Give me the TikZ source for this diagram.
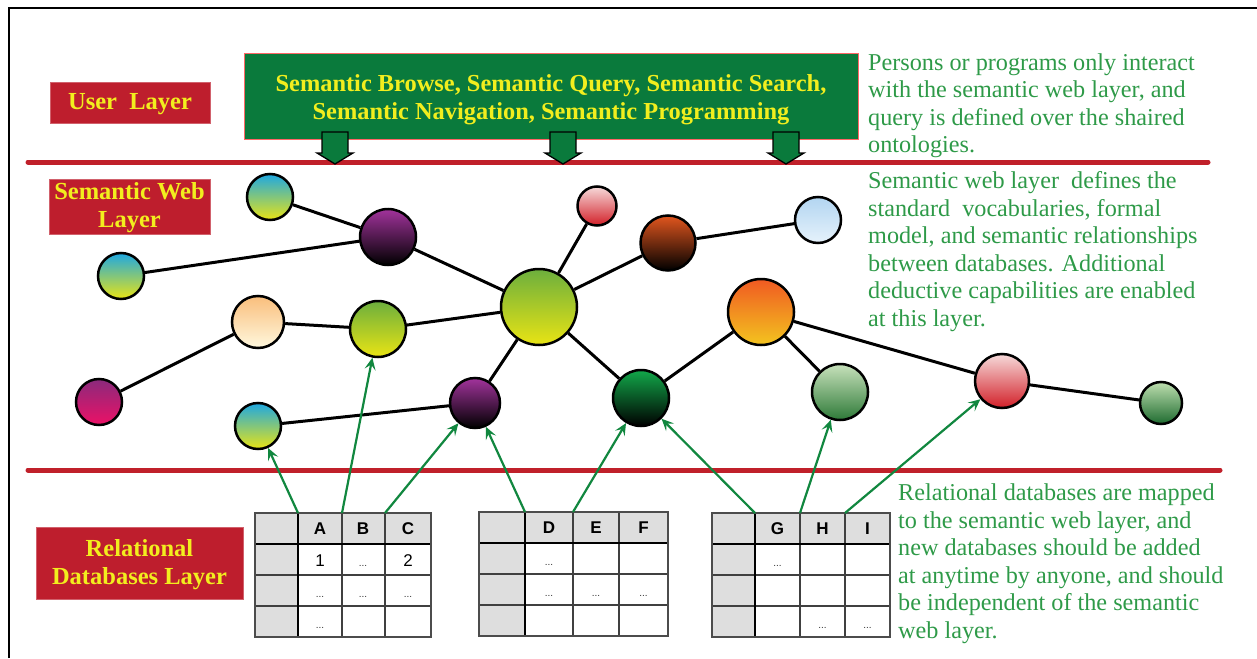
\documentclass[tikz,border=0pt]{standalone}
\usepackage{fontspec}
\setmainfont{Liberation Serif}
\newfontfamily\arialf{Liberation Sans}
\usetikzlibrary{arrows.meta}
\definecolor{sepred}{HTML}{C0202A}
\definecolor{boxred}{HTML}{BE1E2D}
\definecolor{boxyellow}{HTML}{F2EE1E}
\definecolor{boxgreen}{HTML}{0A7A3C}
\definecolor{txtgreen}{HTML}{2E9A48}
\definecolor{arrgreen}{HTML}{11873F}
\definecolor{cellgray}{HTML}{DEDEDE}
\definecolor{cyanT}{HTML}{1EA8E2}
\definecolor{yelB}{HTML}{E9E414}
\definecolor{purT}{HTML}{A2339C}
\definecolor{pinkT}{HTML}{F6DADA}
\definecolor{redB}{HTML}{D21F28}
\definecolor{rustT}{HTML}{E2561E}
\definecolor{skyT}{HTML}{B2D5F1}
\definecolor{skyB}{HTML}{E6F2FB}
\definecolor{limeT}{HTML}{6CAF3D}
\definecolor{peachT}{HTML}{F9BE7C}
\definecolor{creamB}{HTML}{FFF8DE}
\definecolor{plumT}{HTML}{8A2A7C}
\definecolor{rosB}{HTML}{EC1166}
\definecolor{grnT}{HTML}{12A84A}
\definecolor{orT}{HTML}{F05A22}
\definecolor{orB}{HTML}{F3C41F}
\definecolor{sageT}{HTML}{C8E2BC}
\definecolor{sageB}{HTML}{2E7A38}
\definecolor{leafT}{HTML}{BEDFAF}
\definecolor{leafB}{HTML}{1E6B30}
\newcommand\dbgrid[6]{%
  \fill[cellgray] (#1,#6) rectangle (#2,#6+124);
  \fill[cellgray] (#2,#6) rectangle (#5,#6+31);
  \draw[gridline] (#1,#6+62) -- (#5,#6+62);
  \draw[gridline] (#1,#6+93) -- (#5,#6+93);
  \draw[gridline] (#3,#6) -- (#3,#6+124);
  \draw[gridline] (#4,#6) -- (#4,#6+124);
  \draw[thickgrid] (#1,#6+31) -- (#5,#6+31);
  \draw[thickgrid] (#2,#6) -- (#2,#6+124);
  \draw[gridouter] (#1,#6) rectangle (#5,#6+124);
}
\newcommand\downarrowshape[1]{%
  \draw[fill=boxgreen,line width=1.3] (#1-13,132) -- (#1+13,132) -- (#1+13,153) -- (#1+18,153) -- (#1,164) -- (#1-18,153) -- (#1-13,153) -- cycle;
}
\begin{document}
\begin{tikzpicture}[x=1pt,y=-1pt,
  sepline/.style={line width=5,draw=sepred,line cap=round},
  layerbox/.style={fill=boxred,draw=boxred!70!white,line width=0.8,inner sep=0},
  layertext/.style={text=boxyellow,font=\bfseries\fontsize{24.5}{28}\selectfont,align=center,inner sep=0},
  desc/.style={text=txtgreen,font=\fontsize{24.2}{27.5}\selectfont,align=left,inner sep=0,anchor=north west},
  ball/.style={circle,draw=black,line width=2.5,inner sep=0,minimum size=#1},
  edge/.style={line width=3,draw=black},
  maparrow/.style={line width=2.2,draw=arrgreen,-{Stealth[length=12pt,width=11pt,inset=5pt]}},
  gridline/.style={line width=1.2,draw=black!75},
  thickgrid/.style={line width=2.6,draw=black},
  gridouter/.style={line width=1.6,draw=black!70},
  hdr/.style={font=\arialf\bfseries\fontsize{17}{17}\selectfont,inner sep=0},
  val/.style={font=\arialf\fontsize{17}{17}\selectfont,inner sep=0},
  dots/.style={font=\arialf\fontsize{10}{10}\selectfont,inner sep=0,text=black!80}
]
\useasboundingbox (0,0) rectangle (1257,658);
% frame
\draw[line width=2] (9,658) -- (9,8) -- (1257,8);
% separator lines
\draw[sepline] (28,162) -- (1208,162);
\draw[sepline] (28,470) -- (1220,470);
% layer boxes
\node[layerbox,minimum width=160,minimum height=41] (ul) at (130,103) {};
\node[layertext] (ult) at (130,104) {User~~Layer};
\node[layerbox,minimum width=161,minimum height=55] (swl) at (129.5,206.5) {};
\node[layertext] (swlt) at (129.5,208) {Semantic Web\\Layer};
\node[layerbox,minimum width=207,minimum height=72] (rdl) at (139.5,563) {};
\node[layertext] (rdlt) at (139.5,564.5) {Relational\\Databases Layer};
% green box
\node[fill=boxgreen,draw=red!60!white,line width=1,minimum width=614,minimum height=85,inner sep=0] (ops) at (551,96.5) {};
\node[text=boxyellow,font=\bfseries\fontsize{24.4}{28}\selectfont,align=center,inner sep=0] (opst) at (551,99.5)
  {Semantic Browse, Semantic Query, Semantic Search,\\Semantic Navigation, Semantic Programming};
\downarrowshape{335}
\downarrowshape{563}
\downarrowshape{786}
% descriptions
\node[desc] (d1) at (868,53.5) {Persons or programs only interact\\with the semantic web layer, and\\query is defined over the shaired\\ontologies.};
\node[desc] (d2) at (868,171.5) {Semantic web layer\ \ defines the\\standard\ \ vocabularies, formal\\model, and semantic relationships\\between databases. Additional\\deductive capabilities are enabled\\at this layer.};
\node[desc] (d3) at (898,484) {Relational databases are mapped\\to the semantic web layer, and\\new databases should be added\\at anytime by anyone, and should\\be independent of the semantic\\web layer.};
% balls
\node[ball=46,top color=cyanT,bottom color=yelB] (n1) at (270,197) {};
\node[ball=56,top color=purT,bottom color=black] (n2) at (388,237) {};
\node[ball=46,top color=cyanT,bottom color=yelB] (n3) at (121,276) {};
\node[ball=39,top color=pinkT,bottom color=redB] (n4) at (597,206) {};
\node[ball=55,top color=rustT,bottom color=black] (n5) at (668,243) {};
\node[ball=46,top color=skyT,bottom color=skyB] (n6) at (818,220) {};
\node[ball=76,top color=limeT,bottom color=yelB] (n7) at (539,307) {};
\node[ball=52,top color=peachT,bottom color=creamB] (n8) at (258,322) {};
\node[ball=56,top color=limeT,bottom color=yelB] (n9) at (378,329) {};
\node[ball=46,top color=plumT,bottom color=rosB] (n10) at (99,402) {};
\node[ball=46,top color=cyanT,bottom color=yelB] (n11) at (258,426) {};
\node[ball=50,top color=purT,bottom color=black] (n12) at (475,403) {};
\node[ball=56,top color=grnT,bottom color=black] (n13) at (641,398) {};
\node[ball=66,top color=orT,bottom color=orB] (n14) at (761,312) {};
\node[ball=56,top color=sageT,bottom color=sageB] (n15) at (840,392) {};
\node[ball=54,top color=pinkT,bottom color=redB] (n16) at (1002,381) {};
\node[ball=42,top color=leafT,bottom color=leafB] (n17) at (1161,403) {};
% edges
\draw[edge] (n1) -- (n2);
\draw[edge] (n3) -- (n2);
\draw[edge] (n2) -- (n7);
\draw[edge] (n4) -- (n7);
\draw[edge] (n5) -- (n7);
\draw[edge] (n5) -- (n6);
\draw[edge] (n10) -- (n8);
\draw[edge] (n8) -- (n9);
\draw[edge] (n9) -- (n7);
\draw[edge] (n11) -- (n12);
\draw[edge] (n12) -- (n7);
\draw[edge] (n7) -- (n13);
\draw[edge] (n13) -- (n14);
\draw[edge] (n14) -- (n15);
\draw[edge] (n14) -- (n16);
\draw[edge] (n16) -- (n17);
% tables
\dbgrid{255}{298}{342}{385}{431}{513}
\dbgrid{479}{525}{573}{619}{668}{512}
\dbgrid{712}{755}{800}{845}{890}{513}
% table 1 text
\node[hdr] (ta) at (320,529) {A};
\node[hdr] (tb) at (363,529) {B};
\node[hdr] (tc) at (408,529) {C};
\node[val] (t11) at (320,561) {1};
\node[dots] (t12) at (363,566) {...};
\node[val] (t13) at (408,561) {2};
\node[dots] (t21) at (320,597) {...};
\node[dots] (t22) at (363,597) {...};
\node[dots] (t23) at (408,597) {...};
\node[dots] (t31) at (320,628) {...};
% table 2 text
\node[hdr] (td) at (549,528) {D};
\node[hdr] (te) at (596,528) {E};
\node[hdr] (tf) at (643.5,528) {F};
\node[dots] (u11) at (549,565) {...};
\node[dots] (u21) at (549,596) {...};
\node[dots] (u22) at (596,596) {...};
\node[dots] (u23) at (643.5,596) {...};
% table 3 text
\node[hdr] (tg) at (777.5,529) {G};
\node[hdr] (th) at (822.5,529) {H};
\node[hdr] (ti) at (867.5,529) {I};
\node[dots] (v11) at (777.5,566) {...};
\node[dots] (v32) at (822.5,628) {...};
\node[dots] (v33) at (867.5,628) {...};
% arrow start points
\coordinate (s1) at (298,513);
\coordinate (s2) at (342,513);
\coordinate (s3) at (385,513);
\coordinate (s4) at (525,512);
\coordinate (s5) at (573,512);
\coordinate (s6) at (755,513);
\coordinate (s7) at (800,513);
\coordinate (s8) at (845,513);
\draw[maparrow] (s1) -- (n11);
\draw[maparrow] (s2) -- (n9);
\draw[maparrow] (s3) -- (n12);
\draw[maparrow] (s4) -- (n12);
\draw[maparrow] (s5) -- (n13);
\draw[maparrow] (s6) -- (n13);
\draw[maparrow] (s7) -- (n15);
\draw[maparrow] (s8) -- (n16);
\end{tikzpicture}
\end{document}
